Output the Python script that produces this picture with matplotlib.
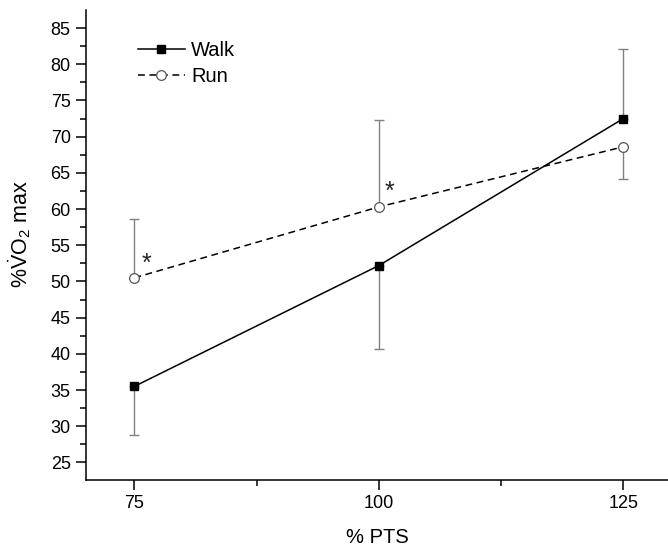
"""Walk vs run %VO2max across %PTS speeds, with one-sided SD bars."""
import matplotlib
matplotlib.use('Agg')
import matplotlib.pyplot as plt
import numpy as np

plt.rcParams['font.family'] = ['Liberation Sans', 'DejaVu Sans']
plt.rcParams['mathtext.fontset'] = 'custom'
plt.rcParams['mathtext.rm'] = 'Liberation Sans'
plt.rcParams['mathtext.it'] = 'Liberation Sans'

# data
pts = [75, 100, 125]
walk = [35.5, 52.2, 72.5]
walk_lo = [6.7, 11.6, 0.0]   # down bars
walk_hi = [0.0, 0.0, 9.6]    # up bars
run = [50.5, 60.3, 68.6]
run_lo = [0.0, 0.0, 4.5]
run_hi = [8.1, 12.0, 0.0]

# significance markers (x, y)
star_x = [76.2, 101.1]
star_y = [51.5, 61.4]


def main():
    fig = plt.figure(figsize=(6.68, 5.49), dpi=100)
    ax = fig.add_axes([0.1287, 0.1257, 0.8713 + 0.002, 0.8561])

    # error bars first so markers sit on top
    ax.errorbar(pts, walk, yerr=[walk_lo, walk_hi], fmt='none', ecolor='#808080',
                elinewidth=1, capsize=3.8, capthick=1, zorder=1)
    ax.errorbar(pts, run, yerr=[run_lo, run_hi], fmt='none', ecolor='#808080',
                elinewidth=1, capsize=3.8, capthick=1, zorder=1)

    ax.plot(pts, walk, '-', color='black', lw=1.1, marker='s', ms=6,
            mfc='black', mec='black', label='Walk', zorder=3)
    ax.plot(pts, run, '--', color='black', lw=1.1, dashes=(4.5, 3), marker='o', ms=7,
            mfc='white', mec='#555555', mew=0.9, label='Run', zorder=3)

    for sx, sy in zip(star_x, star_y):
        ax.text(sx, sy, '*', ha='center', va='baseline', fontsize=18, color='#222222')

    ax.set_xlim(70.05, 129.7)
    ax.set_ylim(22.57, 87.5)
    ax.set_xticks([75, 100, 125])
    ax.set_xticks([87.5, 112.5], minor=True)
    ax.set_yticks(np.arange(25, 86, 5))
    ax.set_yticks(np.arange(27.5, 86, 5), minor=True)

    ax.spines['top'].set_visible(False)
    ax.spines['right'].set_visible(False)
    for s in ('left', 'bottom'):
        ax.spines[s].set_linewidth(1.1)

    ax.tick_params(which='major', direction='out', length=7, width=1.1, labelsize=13, pad=4)
    ax.tick_params(which='minor', direction='out', length=4.3, width=1.1)

    ax.set_xlabel('% PTS', fontsize=14.5, labelpad=11)
    ax.set_ylabel(r'%$\dot{\mathrm{V}}\mathrm{O}_{2}$ max', fontsize=15.5)
    ax.yaxis.set_label_coords(-0.091, 0.524)

    ax.legend(loc='upper left', bbox_to_anchor=(0.075, 0.952), frameon=False,
              fontsize=14.5, handlelength=2.35, handletextpad=0.3, labelspacing=0.38,
              borderaxespad=0)

    fig.savefig('out.png', dpi=100)
    plt.close()


if __name__ == '__main__':
    main()
